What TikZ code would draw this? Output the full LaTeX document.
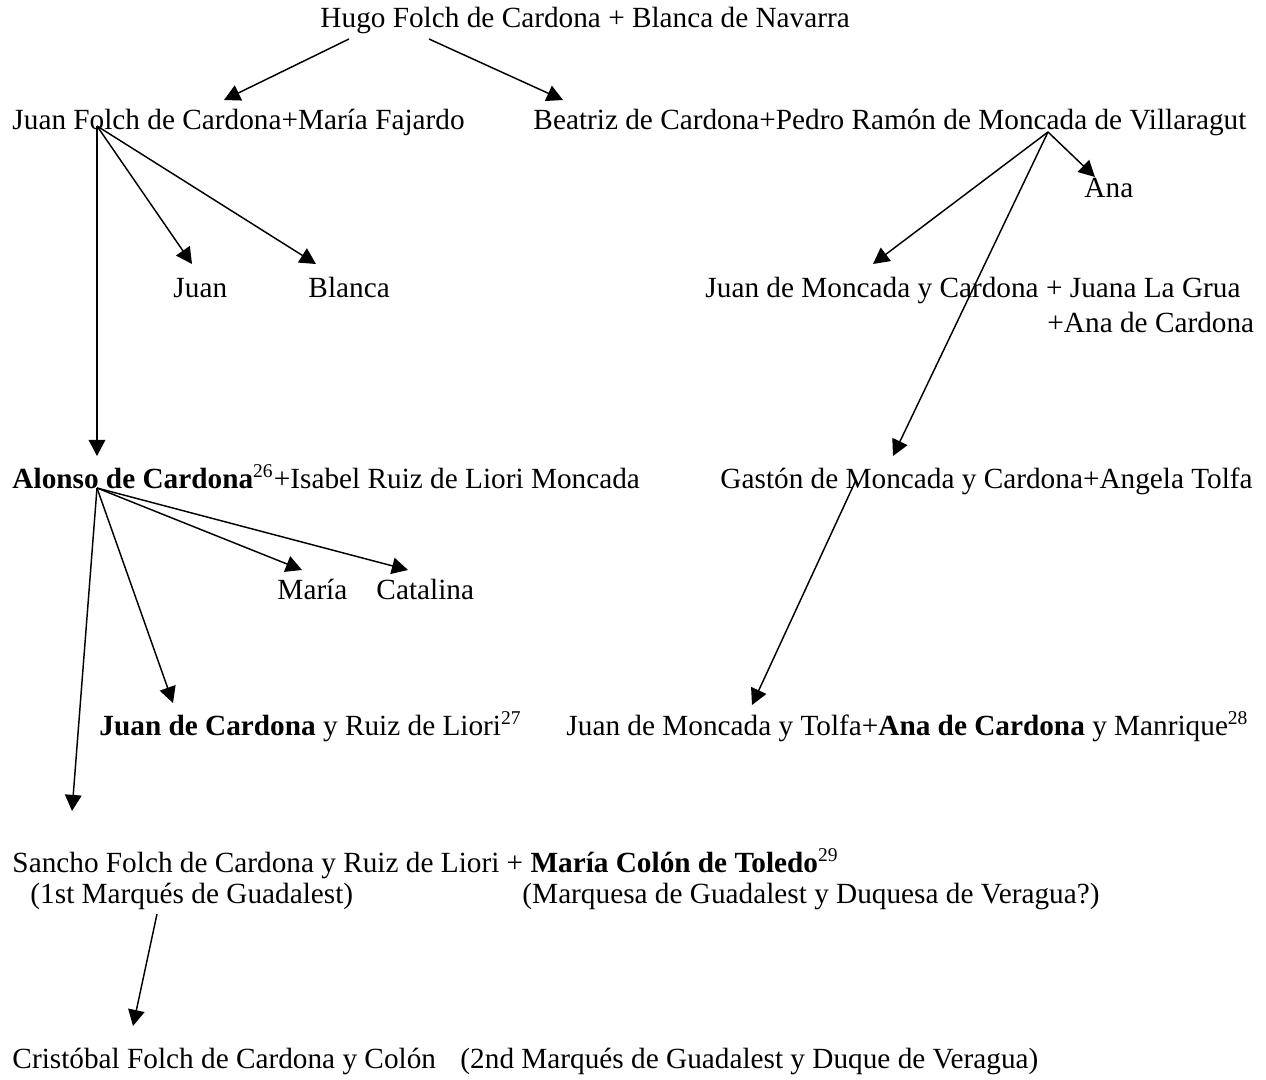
\documentclass[tikz,border=0pt]{standalone}
\usepackage{fontspec}
\setmainfont{Liberation Serif}
\usetikzlibrary{arrows.meta}

\begin{document}
\begin{tikzpicture}[
    x=0.41pt, y=-0.41pt,
    >={Triangle[length=6.6pt, width=6.8pt]},
    person/.style={anchor=base west, inner sep=0pt,
                   font=\fontsize{12}{14}\selectfont},
    link/.style={->, line width=0.6pt}
  ]
  \useasboundingbox (0,0) rectangle (1266,1080);

  % people
  \node[person] (hugo) at (320,28) {Hugo Folch de Cardona + Blanca de Navarra};
  \node[person] (juanfolch) at (12,129) {Juan Folch de Cardona+María Fajardo};
  \node[person] (beatriz) at (533,129) {Beatriz de Cardona+Pedro Ramón de Moncada de Villaragut};
  \node[person] (ana) at (1084,197) {Ana};
  \node[person] (juan) at (173,297) {Juan};
  \node[person] (blanca) at (308,297) {Blanca};
  \node[person] (juanmoncada) at (705,297) {Juan de Moncada y Cardona + Juana La Grua};
  \node[person] (anacardona) at (1047,332) {+Ana de Cardona};
  \node[person] (alonso) at (12,488) {\textbf{Alonso de Cardona}\textsuperscript{26}+Isabel Ruiz de Liori Moncada};
  \node[person] (gaston) at (720,488) {Gastón de Moncada y Cardona+Angela Tolfa};
  \node[person] (maria) at (277,599) {María};
  \node[person] (catalina) at (376,599) {Catalina};
  \node[person] (juancardona) at (99,735) {\textbf{Juan de Cardona} y Ruiz de Liori\textsuperscript{27}};
  \node[person] (juantolfa) at (566,735) {Juan de Moncada y Tolfa+\textbf{Ana de Cardona} y Manrique\textsuperscript{28}};
  \node[person] (sancho) at (12,872) {Sancho Folch de Cardona y Ruiz de Liori + \textbf{María Colón de Toledo}\textsuperscript{29}};
  \node[person] (sanchotit) at (30,903) {(1st Marqués de Guadalest)};
  \node[person] (mariatit) at (522,903) {(Marquesa de Guadalest y Duquesa de Veragua?)};
  \node[person] (cristobal) at (12,1068) {Cristóbal Folch de Cardona y Colón};
  \node[person] (cristobaltit) at (460,1068) {(2nd Marqués de Guadalest y Duque de Veragua)};

  % where the lines start and end
  \coordinate (hugo-l) at (349,39);
  \coordinate (hugo-r) at (429,39);
  \coordinate (juanfolch-o) at (97,126);
  \coordinate (beatriz-o) at (1048,132);
  \coordinate (alonso-o) at (97,488);
  \coordinate (gaston-o) at (856,480);
  \coordinate (sancho-o) at (157,914);
  \coordinate (juanfolch-in) at (224,100);
  \coordinate (beatriz-in) at (563,100);
  \coordinate (juan-in) at (192,264);
  \coordinate (blanca-in) at (316,264);
  \coordinate (alonso-in) at (97,456);
  \coordinate (ana-in) at (1095,177);
  \coordinate (juanmoncada-in) at (873,264);
  \coordinate (gaston-in) at (893,456);
  \coordinate (maria-in) at (302,570);
  \coordinate (catalina-in) at (408,570);
  \coordinate (juancardona-in) at (173,703);
  \coordinate (sancho-in) at (72,811);
  \coordinate (juantolfa-in) at (752,705);
  \coordinate (cristobal-in) at (133,1026);

  \draw[link] (hugo-l) -- (juanfolch-in);
  \draw[link] (hugo-r) -- (beatriz-in);
  \draw[link] (juanfolch-o) -- (alonso-in);
  \draw[link] (juanfolch-o) -- (juan-in);
  \draw[link] (juanfolch-o) -- (blanca-in);
  \draw[link] (beatriz-o) -- (ana-in);
  \draw[link] (beatriz-o) -- (juanmoncada-in);
  \draw[link] (beatriz-o) -- (gaston-in);
  \draw[link] (alonso-o) -- (maria-in);
  \draw[link] (alonso-o) -- (catalina-in);
  \draw[link] (alonso-o) -- (juancardona-in);
  \draw[link] (alonso-o) -- (sancho-in);
  \draw[link] (gaston-o) -- (juantolfa-in);
  \draw[link] (sancho-o) -- (cristobal-in);
\end{tikzpicture}
\end{document}
